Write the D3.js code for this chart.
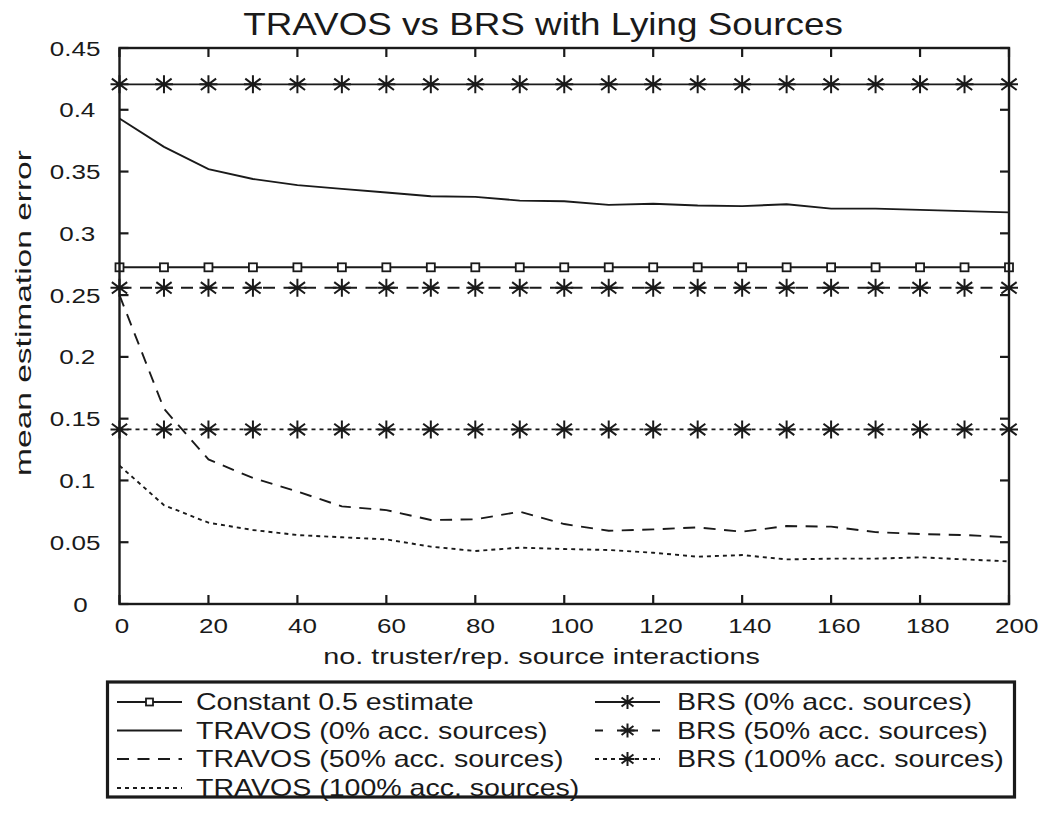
<!DOCTYPE html>
<html>
<head>
<meta charset="utf-8">
<script src="https://cdn.jsdelivr.net/npm/d3@7"></script>
<style>
  html, body { margin: 0; padding: 0; background: #fff; }
  svg { display: block; }
  text { font-family: "Liberation Sans", Arial, Helvetica, sans-serif; fill: #1a1a1a; }
</style>
</head>
<body>
<svg id="chart" width="1046" height="824"></svg>
<script>
// Number of truster / reputation-source interactions
const interactions = d3.range(0, 201, 10);

// Mean estimation error per series
const constantEstimate = interactions.map(() => 0.2725);
const travos0 = [0.393, 0.370, 0.352, 0.344, 0.339, 0.336, 0.333, 0.330, 0.3295, 0.3265, 0.326,
                 0.323, 0.324, 0.3225, 0.322, 0.3235, 0.320, 0.320, 0.319, 0.318, 0.317];
const travos50 = [0.250, 0.158, 0.117, 0.102, 0.091, 0.079, 0.076, 0.068, 0.0685, 0.0747, 0.0647,
                  0.0593, 0.0604, 0.062, 0.0585, 0.0631, 0.0626, 0.0582, 0.0566, 0.0558, 0.054];
const travos100 = [0.112, 0.080, 0.0658, 0.0599, 0.0558, 0.054, 0.0523, 0.0464, 0.0429, 0.0456, 0.0445,
                   0.0437, 0.0415, 0.0383, 0.0396, 0.0361, 0.0367, 0.0367, 0.0378, 0.0361, 0.0345];
const brs0 = interactions.map(() => 0.4206);
const brs50 = interactions.map(() => 0.2559);
const brs100 = interactions.map(() => 0.1413);

const xTicks = d3.range(0, 201, 20);
const yTicks = [0, 0.05, 0.1, 0.15, 0.2, 0.25, 0.3, 0.35, 0.4, 0.45];
const yTickLabels = ["0", "0.05", "0.1", "0.15", "0.2", "0.25", "0.3", "0.35", "0.4", "0.45"];

const titleText = "TRAVOS vs BRS with Lying Sources";
const xLabel = "no. truster/rep. source interactions";
const yLabel = "mean estimation error";

const ink = "#1a1a1a";
const series = [
  { name: "Constant 0.5 estimate", values: constantEstimate, dash: null, marker: "square" },
  { name: "TRAVOS (0% acc. sources)", values: travos0, dash: null, marker: null },
  { name: "TRAVOS (50% acc. sources)", values: travos50, dash: "12,8.5", marker: null },
  { name: "TRAVOS (100% acc. sources)", values: travos100, dash: "4,4", marker: null },
  { name: "BRS (0% acc. sources)", values: brs0, dash: null, marker: "star" },
  { name: "BRS (50% acc. sources)", values: brs50, dash: "12,8.5", marker: "star" },
  { name: "BRS (100% acc. sources)", values: brs100, dash: "4,4", marker: "star" }
];

const svg = d3.select("#chart");
const plot = { left: 119.5, right: 1009, top: 48, bottom: 604 };

const x = d3.scaleLinear().domain([0, 200]).range([plot.left, plot.right]);
const y = d3.scaleLinear().domain([0, 0.45]).range([plot.bottom, plot.top]);

svg.append("rect").attr("width", 1046).attr("height", 824).attr("fill", "#fff");

// Width of a string in the base face at a given size
const probe = svg.append("text").attr("visibility", "hidden");
function textWidth(str, size) {
  probe.attr("font-size", size).text(str);
  return probe.node().getComputedTextLength();
}

// Tick labels: laid out for a 16.8px face, drawn in a wider 21px face from the same start point
const layoutSize = 16.8, tickSize = 21, tickWide = 1.24;
function tickText(g, startX, baseY, str) {
  g.append("text")
    .attr("transform", `translate(${startX},${baseY}) scale(${tickWide},1)`)
    .attr("font-size", tickSize)
    .text(str);
}

// Free text stretched to a given overall length
function fitText(g, tx, ty, str, size, length, anchor, rot = 0) {
  const sx = length / textWidth(str, size);
  g.append("text")
    .attr("transform", `translate(${tx},${ty}) rotate(${rot}) scale(${sx},1)`)
    .attr("text-anchor", anchor)
    .attr("font-size", size)
    .text(str);
}

// Markers
function drawMarker(g, kind, cx, cy, r) {
  if (kind === "square") {
    g.append("rect")
      .attr("x", cx - r).attr("y", cy - r)
      .attr("width", 2 * r).attr("height", 2 * r)
      .attr("fill", "#fff").attr("stroke", ink).attr("stroke-width", 1.8);
  } else if (kind === "star") {
    const d = r * 0.85;
    const p = `M${cx - r},${cy}L${cx + r},${cy}M${cx},${cy - r}L${cx},${cy + r}` +
              `M${cx - d},${cy - d * 0.75}L${cx + d},${cy + d * 0.75}M${cx - d},${cy + d * 0.75}L${cx + d},${cy - d * 0.75}`;
    g.append("path").attr("d", p).attr("stroke", ink).attr("stroke-width", 2).attr("fill", "none");
  }
}

const line = d3.line().x((d, i) => x(interactions[i])).y(d => y(d));

const gData = svg.append("g");
series.forEach(s => {
  gData.append("path")
    .datum(s.values)
    .attr("d", line)
    .attr("fill", "none")
    .attr("stroke", ink)
    .attr("stroke-width", 1.9)
    .attr("stroke-dasharray", s.dash);
  if (s.marker) {
    s.values.forEach((v, i) => {
      drawMarker(gData, s.marker, x(interactions[i]), y(v), s.marker === "square" ? 4 : 9);
    });
  }
});

// Axes box with inward ticks
const gAxes = svg.append("g");
gAxes.append("rect")
  .attr("x", plot.left).attr("y", plot.top)
  .attr("width", plot.right - plot.left).attr("height", plot.bottom - plot.top)
  .attr("fill", "none").attr("stroke", ink).attr("stroke-width", 2.4);

const tickLen = 9;
xTicks.forEach(t => {
  gAxes.append("line").attr("x1", x(t)).attr("x2", x(t))
    .attr("y1", plot.bottom).attr("y2", plot.bottom - tickLen)
    .attr("stroke", ink).attr("stroke-width", 2.2);
  gAxes.append("line").attr("x1", x(t)).attr("x2", x(t))
    .attr("y1", plot.top).attr("y2", plot.top + tickLen)
    .attr("stroke", ink).attr("stroke-width", 2.2);
  const str = String(t);
  tickText(gAxes, x(t) - textWidth(str, layoutSize) / 2, plot.bottom + 29, str);
});
yTicks.forEach((t, i) => {
  gAxes.append("line").attr("x1", plot.left).attr("x2", plot.left + tickLen)
    .attr("y1", y(t)).attr("y2", y(t))
    .attr("stroke", ink).attr("stroke-width", 2.2);
  gAxes.append("line").attr("x1", plot.right).attr("x2", plot.right - tickLen)
    .attr("y1", y(t)).attr("y2", y(t))
    .attr("stroke", ink).attr("stroke-width", 2.2);
  const str = yTickLabels[i];
  tickText(gAxes, 82.5 - textWidth(str, layoutSize), y(t) + 7.5, str);
});

// Title and axis labels
fitText(svg, 543, 35, titleText, 31, 600, "middle");
fitText(svg, 541.5, 664, xLabel, 22, 437, "middle");
fitText(svg, 31, 313, yLabel, 22, 326, "middle", -90);

// Legend
const legend = svg.append("g");
legend.append("rect").attr("x", 107.5).attr("y", 682).attr("width", 907).attr("height", 115)
  .attr("fill", "#fff").attr("stroke", ink).attr("stroke-width", 3.2);

const rowsY = [702, 730.5, 759, 788];
const cols = [
  { x1: 117, x2: 182, tx: 196 },
  { x1: 595, x2: 660, tx: 677 }
];
const legendLayout = [
  [0, 0], [0, 1], [0, 2], [0, 3],
  [1, 0], [1, 1], [1, 2]
];
// Legend samples use a shorter dash so that a dash sits each side of the marker
const legendDash = { "12,8.5": "8,14,21,14,8" };
series.forEach((s, i) => {
  const [c, r] = legendLayout[i];
  const col = cols[c];
  const yy = rowsY[r];
  const dash = s.marker === "star" && legendDash[s.dash] ? legendDash[s.dash] : s.dash;
  legend.append("line").attr("x1", col.x1).attr("x2", col.x2).attr("y1", yy).attr("y2", yy)
    .attr("stroke", ink).attr("stroke-width", 1.8).attr("stroke-dasharray", dash);
  if (s.marker) drawMarker(legend, s.marker, (col.x1 + col.x2) / 2, yy, s.marker === "square" ? 3.5 : 7);
  legend.append("text")
    .attr("transform", `translate(${col.tx},${yy + 8}) scale(1.19,1)`)
    .attr("font-size", 24)
    .text(s.name);
});
</script>
</body>
</html>
